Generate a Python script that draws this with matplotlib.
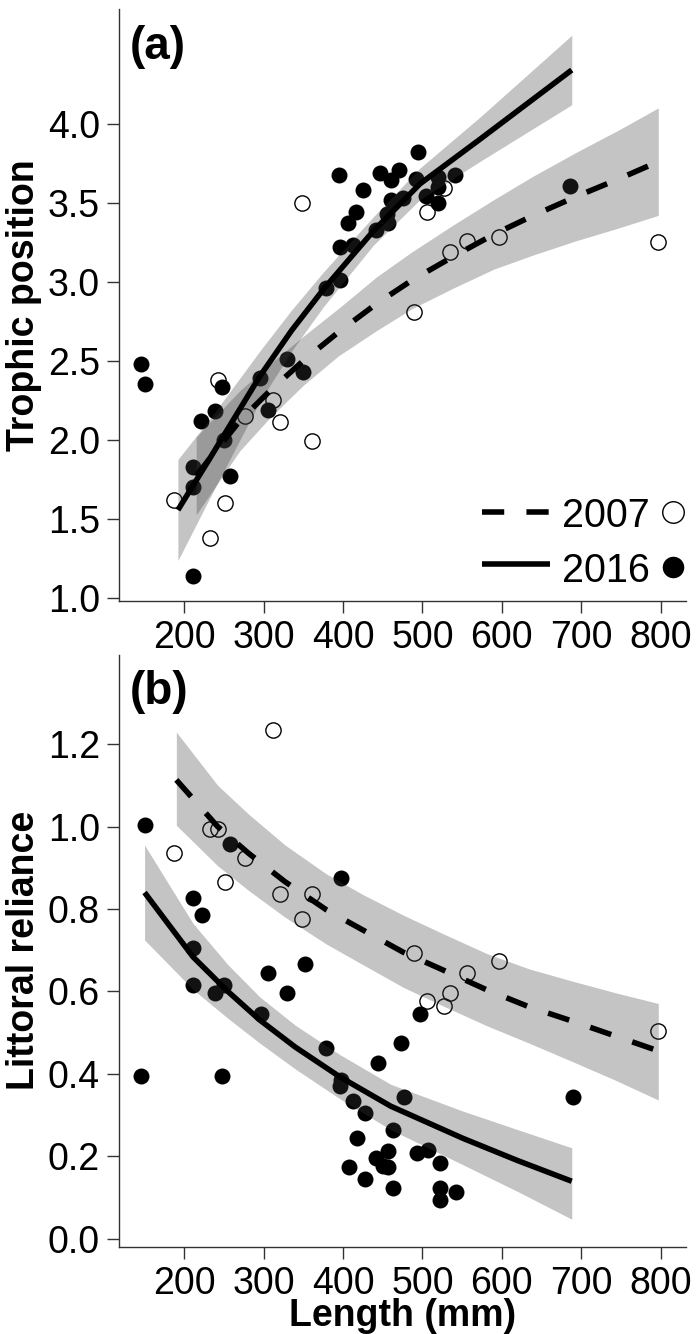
import numpy as np
import matplotlib
matplotlib.use("Agg")
import matplotlib.pyplot as plt
from matplotlib.ticker import FormatStrFormatter

plt.rcParams['font.family'] = ['Liberation Sans', 'DejaVu Sans']

# ---------------- data ----------------
# 2007 fish (open circles): length, trophic position, littoral reliance
len_2007 = [187, 233, 243, 251, 276, 312, 321, 348, 361, 489, 506, 527, 535, 556, 597, 797]
tp_2007 = [1.62, 1.38, 2.38, 1.60, 2.15, 2.25, 2.11, 3.50, 1.99, 2.81, 3.44, 3.59, 3.19, 3.26, 3.28, 3.25]
lr_2007 = [0.936, 0.995, 0.995, 0.865, 0.924, 1.235, 0.836, 0.776, 0.836, 0.694, 0.576, 0.566,
           0.596, 0.646, 0.675, 0.505]

# 2016 fish (filled circles), panel (a)
len_2016_tp = [146, 150, 211, 211, 211, 221, 239, 247, 250, 258, 295, 305, 329, 350, 379, 396, 396,
               395, 406, 413, 416, 425, 441, 446, 455, 456, 460, 460, 471, 476, 492, 495, 505, 520,
               520, 520, 541, 686]
tp_2016 = [2.48, 2.35, 1.83, 1.70, 1.14, 2.12, 2.18, 2.335, 2.00, 1.77, 2.39, 2.19, 2.51, 2.43, 2.96,
           3.01, 3.22, 3.675, 3.37, 3.23, 3.44, 3.58, 3.33, 3.686, 3.43, 3.37, 3.52, 3.644, 3.71,
           3.53, 3.648, 3.82, 3.54, 3.665, 3.60, 3.496, 3.675, 3.606]

# 2016 fish (filled circles), panel (b)
len_2016_lr = [146, 151, 211, 222, 211, 211, 239, 250, 248, 258, 297, 306, 330, 352, 379, 397, 397,
               396, 412, 427, 417, 407, 427, 444, 442, 450, 497, 473, 477, 689, 463, 457, 457, 463,
               493, 507, 522, 522, 522, 542]
lr_2016 = [0.395, 1.004, 0.826, 0.785, 0.705, 0.616, 0.596, 0.616, 0.395, 0.957, 0.545, 0.646, 0.596,
           0.666, 0.464, 0.876, 0.385, 0.372, 0.335, 0.305, 0.244, 0.174, 0.145, 0.426, 0.196, 0.178,
           0.545, 0.476, 0.345, 0.345, 0.264, 0.213, 0.175, 0.124, 0.208, 0.216, 0.185, 0.124,
           0.094, 0.115]

# fitted curves with confidence bands
fit_tp16_x = [192, 232, 295, 335, 375, 438, 497, 572, 630, 688]
fit_tp16_y = [1.555, 1.88, 2.40, 2.69, 2.95, 3.32, 3.62, 3.90, 4.12, 4.34]
fit_tp16_lo = [1.235, 1.63, 2.24, 2.56, 2.84, 3.23, 3.52, 3.76, 3.94, 4.12]
fit_tp16_hi = [1.875, 2.13, 2.56, 2.82, 3.06, 3.41, 3.72, 4.04, 4.30, 4.56]

fit_tp07_x = [215, 232, 270, 308, 350, 394, 442, 487, 539, 590, 640, 694, 747, 797]
fit_tp07_y = [1.77, 1.88, 2.12, 2.31, 2.50, 2.68, 2.86, 3.01, 3.16, 3.30, 3.42, 3.54, 3.65, 3.76]
fit_tp07_lo = [1.525, 1.65, 1.93, 2.14, 2.345, 2.53, 2.69, 2.83, 2.96, 3.08, 3.17, 3.26, 3.34, 3.42]
fit_tp07_hi = [2.015, 2.11, 2.31, 2.48, 2.655, 2.83, 3.03, 3.19, 3.36, 3.52, 3.67, 3.82, 3.96, 4.10]

fit_lr16_x = [150, 211, 255, 295, 340, 396, 460, 551, 620, 688]
fit_lr16_y = [0.84, 0.684, 0.60, 0.531, 0.465, 0.393, 0.322, 0.244, 0.19, 0.14]
fit_lr16_lo = [0.725, 0.605, 0.535, 0.475, 0.412, 0.34, 0.265, 0.18, 0.115, 0.048]
fit_lr16_hi = [0.955, 0.765, 0.665, 0.587, 0.518, 0.447, 0.375, 0.31, 0.265, 0.221]

fit_lr07_x = [190, 242, 281, 327, 379, 425, 476, 526, 581, 634, 689, 743, 797]
fit_lr07_y = [1.113, 1.0, 0.935, 0.866, 0.798, 0.749, 0.695, 0.652, 0.604, 0.563, 0.528, 0.492, 0.456]
fit_lr07_lo = [1.003, 0.905, 0.845, 0.78, 0.715, 0.665, 0.61, 0.565, 0.517, 0.475, 0.43, 0.385, 0.337]
fit_lr07_hi = [1.229, 1.10, 1.03, 0.955, 0.885, 0.835, 0.785, 0.74, 0.692, 0.655, 0.625, 0.597, 0.571]

x_ticks = [200, 300, 400, 500, 600, 700, 800]
tp_ticks = [1.0, 1.5, 2.0, 2.5, 3.0, 3.5, 4.0]
lr_ticks = [0.0, 0.2, 0.4, 0.6, 0.8, 1.0, 1.2]
legend_labels = ['2007', '2016']

# ---------------- figure ----------------
W, H = 696, 1334
fig = plt.figure(figsize=(W / 100, H / 100), dpi=100)


def rect(l, t, r, b):
    return [l / W, 1 - b / H, (r - l) / W, (b - t) / H]


axA = fig.add_axes(rect(119, 8.7, 686, 601.3))
axB = fig.add_axes(rect(119, 655, 686, 1246.7))

RIB_C = (0.235, 0.235, 0.235)
RIB_A = 0.30
LW = 4.0
DASH = (4, 4)
TICK_FS = 27
LAB_FS = 27


def draw(ax, ox, oy, fx, fy, f16, f07):
    ax.plot(ox, oy, 'o', ms=11, mfc='none', mec='black', mew=1.0, zorder=2, clip_on=False)
    ax.plot(fx, fy, 'o', ms=11.5, mfc='black', mec='black', mew=0, zorder=2, clip_on=False)
    for (cx, cy, lo, hi) in (f16, f07):
        ax.fill_between(cx, lo, hi, color=RIB_C, alpha=RIB_A, lw=0, zorder=3)
    ax.plot(f16[0], f16[1], color='black', lw=LW, solid_capstyle='butt', zorder=4)
    ax.plot(f07[0], f07[1], color='black', lw=LW, dashes=DASH, dash_capstyle='butt', zorder=4)


draw(axA, len_2007, tp_2007, len_2016_tp, tp_2016,
     (fit_tp16_x, fit_tp16_y, fit_tp16_lo, fit_tp16_hi),
     (fit_tp07_x, fit_tp07_y, fit_tp07_lo, fit_tp07_hi))
draw(axB, len_2007, lr_2007, len_2016_lr, lr_2016,
     (fit_lr16_x, fit_lr16_y, fit_lr16_lo, fit_lr16_hi),
     (fit_lr07_x, fit_lr07_y, fit_lr07_lo, fit_lr07_hi))

for ax in (axA, axB):
    ax.set_xlim(117.8, 831.9)
    ax.set_xticks(x_ticks)
    for s in ('top', 'right'):
        ax.spines[s].set_visible(False)
    for s in ('left', 'bottom'):
        ax.spines[s].set_color('#333333')
        ax.spines[s].set_linewidth(1.0)
    ax.tick_params(direction='out', length=8.6, width=1.0, color='#333333',
                   labelsize=TICK_FS, labelcolor='black', pad=5)
    ax.yaxis.set_major_formatter(FormatStrFormatter('%.1f'))

axA.set_ylim(0.977, 4.728)
axA.set_yticks(tp_ticks)
axB.set_ylim(-0.0187, 1.4158)
axB.set_yticks(lr_ticks)

axA.set_ylabel('Trophic position', fontsize=LAB_FS, fontweight='bold')
axB.set_ylabel('Littoral reliance', fontsize=LAB_FS, fontweight='bold')
axA.yaxis.set_label_coords(-0.136, 0.5)
axB.yaxis.set_label_coords(-0.136, 0.5)
axB.set_xlabel('Length (mm)', fontsize=LAB_FS, fontweight='bold')
axB.xaxis.set_label_coords(0.5, -0.0875)

axA.text(0.019, 0.915, '(a)', transform=axA.transAxes, fontsize=33, fontweight='bold',
         ha='left', va='baseline')
axB.text(0.019, 0.918, '(b)', transform=axB.transAxes, fontsize=33, fontweight='bold',
         ha='left', va='baseline')

# legend (panel a, lower right): line key, label, point key
leg_line_y = [0.1512, 0.0629]
leg_text_y = [0.1259, 0.0331]
leg_pt_y = [0.1512, 0.0584]
styles = [dict(dashes=DASH, dash_capstyle='butt'), dict(solid_capstyle='butt')]
pts = [dict(mfc='none', mec='black', mew=1.0), dict(mfc='black', mec='black', mew=0)]
for i, lab in enumerate(legend_labels):
    axA.plot([0.6397, 0.7600], [leg_line_y[i]] * 2, transform=axA.transAxes, color='black',
             lw=LW, clip_on=False, zorder=5, **styles[i])
    axA.text(0.7815, leg_text_y[i], lab, transform=axA.transAxes, fontsize=28.5,
             ha='left', va='baseline')
    axA.plot([0.9765], [leg_pt_y[i]], 'o', ms=15.5, transform=axA.transAxes,
             clip_on=False, zorder=5, **pts[i])

fig.savefig('out.png', dpi=100)
